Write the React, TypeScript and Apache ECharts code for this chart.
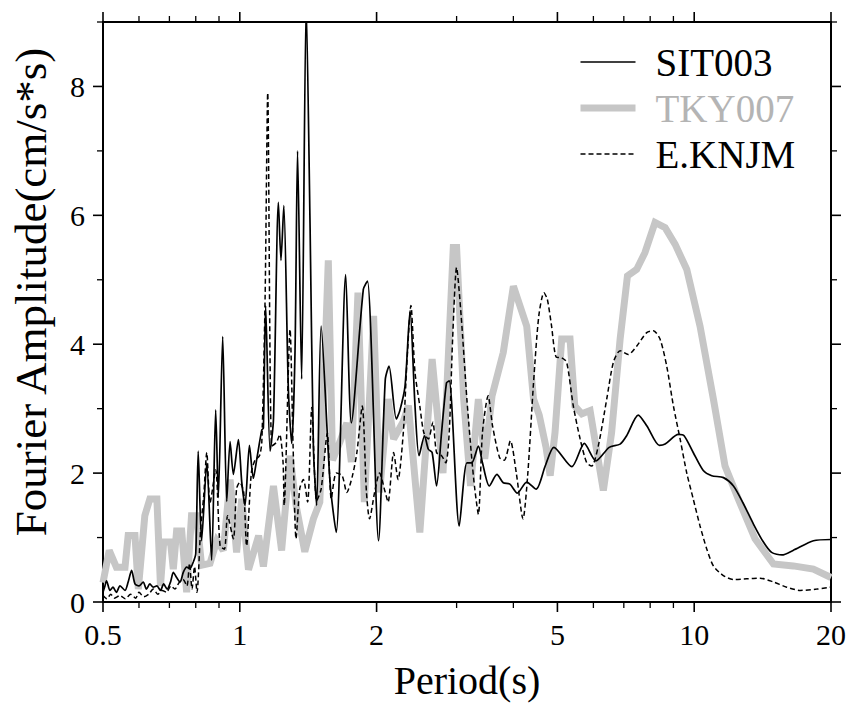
import React, { useEffect, useRef } from "react";
import * as echarts from "echarts";

const FONT = "'Liberation Serif', 'Times New Roman', Times, serif";

// Axis tick positions (log period axis, linear amplitude axis)
const xMajorTicks = [0.5, 1, 2, 5, 10, 20];
const xMinorTicks = [0.6, 0.7, 0.8, 0.9, 3, 4, 6, 7, 8, 9];
const yMajorTicks = [0, 2, 4, 6, 8];
const yMinorTicks = [1, 3, 5, 7, 9];

const seriesNames = ["SIT003", "TKY007", "E.KNJM"];

// SIT003 (thin black solid)
const sitPeriod = [
  0.5, 0.505, 0.509, 0.518, 0.526, 0.535, 0.545, 0.559, 0.568, 0.578, 0.588,
  0.6, 0.613, 0.623, 0.634, 0.645, 0.657, 0.669, 0.68, 0.692, 0.704, 0.714,
  0.726, 0.739, 0.751, 0.764, 0.777, 0.79, 0.8, 0.81, 0.824, 0.846, 0.867,
  0.885, 0.897, 0.917, 0.936, 0.952, 0.968, 0.993, 1.01, 1.027, 1.05, 1.071,
  1.09, 1.118, 1.127, 1.14, 1.166, 1.186, 1.216, 1.232, 1.25, 1.279, 1.301,
  1.323, 1.34, 1.368, 1.4, 1.428, 1.452, 1.476, 1.51, 1.58, 1.63, 1.71, 1.76,
  1.87, 1.91, 2.02, 2.09, 2.13, 2.21, 2.25, 2.31, 2.37, 2.43, 2.48, 2.55, 2.6,
  2.65, 2.71, 2.78, 2.85, 2.89, 3.04, 3.16, 3.24, 3.35, 3.42, 3.54, 3.68, 3.8,
  3.93, 4.08, 4.28, 4.49, 4.7, 4.91, 5.38, 5.73, 6.08, 6.5, 6.87, 7.1, 7.53,
  7.87, 8.38, 8.63, 9.23, 9.5, 9.95, 10.47, 10.93, 11.6, 12.2, 12.8, 13.5,
  14.2, 14.8, 15.6, 16.5, 18.3, 20,
];
const sitAmp = [
  0.15, 0.25, 0.33, 0.18, 0.23, 0.15, 0.25, 0.18, 0.31, 0.49, 0.28,
  0.25, 0.31, 0.2, 0.28, 0.23, 0.25, 0.18, 0.28, 0.2, 0.31, 0.46,
  0.38, 0.31, 0.46, 0.54, 0.52, 0.62, 0.75, 2.34, 0.95, 2.16, 0.65,
  2.98, 1.62, 4.12, 1.56, 2.49, 1.98, 2.52, 1.86, 1.5, 2.43, 1.92,
  2.22, 2.67, 2.7, 4.6, 2.34, 2.83, 6.2, 5.3, 6.15, 3.3, 2.46,
  3.9, 7.0, 3.46, 9.3, 5.8, 2.4, 1.5, 4.28, 1.85, 1.08, 5.08, 2.78,
  4.85, 4.98, 0.95, 3.45, 3.66, 2.84, 2.97, 3.35, 4.52, 3.04, 2.27, 2.58, 2.37,
  2.32, 1.8, 2.63, 3.4, 3.43, 1.18, 2.16, 2.16, 2.42, 2.16, 1.8, 1.98, 1.85,
  1.83, 1.69, 1.86, 1.75, 2.11, 2.4, 2.1, 2.46, 2.19, 2.4, 2.45, 2.58, 2.9,
  2.73, 2.43, 2.45, 2.6, 2.58, 2.32, 2.04, 1.96, 1.93, 1.8, 1.54, 1.21,
  0.93, 0.77, 0.73, 0.8, 0.95, 0.97,
];

// TKY007 (thick light grey)
const tkyPeriod = [
  0.5, 0.516, 0.535, 0.559, 0.568, 0.588, 0.598, 0.618, 0.634, 0.657, 0.669,
  0.68, 0.704, 0.714, 0.726, 0.745, 0.764, 0.783, 0.803, 0.824, 0.86, 0.89,
  0.92, 0.952, 0.984, 1.01, 1.045, 1.1, 1.127, 1.186, 1.236, 1.29, 1.33, 1.39,
  1.452, 1.5, 1.566, 1.6, 1.66, 1.72, 1.76, 1.82, 1.88, 1.97, 2.03, 2.12,
  2.18, 2.29, 2.35, 2.49, 2.65, 2.8, 2.95, 3.0, 3.11, 3.22, 3.35, 3.46, 3.59,
  3.8, 4.0, 4.28, 4.43, 4.56, 4.72, 4.82, 4.94, 5.11, 5.33, 5.46, 5.66, 5.9,
  6.31, 6.58, 6.87, 7.13, 7.47, 7.79, 8.2, 8.63, 9.08, 9.63, 10.3, 11.02,
  11.69, 12.5, 13.61, 14.94, 16.52, 18.29, 20,
];
const tkyAmp = [
  0.3, 0.8, 0.54, 0.54, 1.03, 1.03, 0.2, 1.34, 1.6, 1.6, 0.25,
  0.93, 0.93, 0.51, 1.1, 1.1, 0.15, 1.34, 1.34, 0.57, 0.6, 0.95,
  0.8, 1.9, 0.77, 1.6, 0.5, 1.03, 0.55, 1.8, 0.8, 2.27, 1.5, 0.78,
  1.29, 1.55, 5.3, 2.2, 2.48, 2.78, 2.17, 4.8, 1.55, 4.44, 1.7, 3.15,
  2.53, 2.8, 3.05, 1.08, 3.77, 2.0, 5.5, 5.5, 3.15, 1.8, 3.15, 2.22, 3.2,
  3.87, 4.9, 4.28, 3.15, 2.9, 2.4, 1.96, 2.63, 4.08, 4.08, 3.04, 2.92, 2.97,
  1.73, 2.63, 4.08, 5.06, 5.16, 5.42, 5.89, 5.81, 5.55, 5.16, 4.28, 3.15,
  2.11, 1.6, 0.98, 0.59, 0.56, 0.51, 0.38,
];

// E.KNJM (thin black dashed)
const knjPeriod = [
  0.5, 0.51, 0.52, 0.53, 0.545, 0.56, 0.575, 0.59, 0.6, 0.615, 0.63, 0.645,
  0.66, 0.675, 0.69, 0.705, 0.72, 0.735, 0.75, 0.765, 0.775, 0.785, 0.795,
  0.805, 0.82, 0.833, 0.846, 0.86, 0.885, 0.905, 0.925, 0.94, 0.968, 0.984,
  1.0, 1.02, 1.035, 1.06, 1.08, 1.105, 1.118, 1.137, 1.152, 1.176, 1.205,
  1.224, 1.245, 1.252, 1.29, 1.31, 1.33, 1.355, 1.38, 1.41, 1.44, 1.476, 1.51,
  1.558, 1.59, 1.63, 1.68, 1.72, 1.77, 1.81, 1.86, 1.9, 1.93, 1.98, 2.03, 2.09,
  2.12, 2.18, 2.23, 2.29, 2.33, 2.38, 2.43, 2.49, 2.54, 2.6, 2.66, 2.71, 2.78,
  2.84, 2.89, 2.94, 3.0, 3.07, 3.16, 3.24, 3.29, 3.35, 3.42, 3.52, 3.6, 3.73,
  3.82, 3.94, 4.06, 4.2, 4.3, 4.43, 4.55, 4.67, 4.75, 4.85, 4.97, 5.11, 5.24,
  5.42, 5.61, 5.8, 5.95, 6.15, 6.42, 6.64, 6.87, 7.16, 7.47, 7.86, 8.13, 8.41,
  8.7, 9.0, 9.31, 9.63, 9.95, 10.3, 10.66, 11.02, 11.59, 12.19, 13.05, 13.96,
  14.94, 15.98, 17.1, 18.6, 20,
];
const knjAmp = [
  0.1, 0.05, 0.12, 0.06, 0.1, 0.05, 0.12, 0.06, 0.15, 0.08, 0.12, 0.2,
  0.12, 0.18, 0.15, 0.25, 0.2, 0.3, 0.35, 0.25, 0.6, 0.2, 0.55,
  0.15, 1.13, 1.65, 2.32, 1.54, 2.05, 0.87, 0.82, 1.34, 0.98, 1.76,
  1.86, 1.7, 0.87, 2.0, 2.2, 2.27, 2.48, 4.75, 7.9, 2.42, 2.48,
  2.6, 2.17, 1.5, 4.23, 2.42, 0.98, 1.76, 1.9, 1.55, 3.02, 1.57, 1.75,
  2.62, 1.6, 2.0, 1.96, 1.7, 1.96, 2.32, 3.04, 1.7, 1.29, 1.7, 2.0, 1.7,
  1.55, 2.32, 1.9, 2.63, 3.66, 4.6, 3.56, 3.04, 2.63, 2.53, 2.79, 2.32, 2.27,
  2.16, 2.63, 4.08, 5.19, 4.44, 3.15, 2.22, 1.75, 1.36, 2.63, 3.2, 2.73, 2.24,
  2.2, 2.5, 2.0, 1.29, 1.96, 3.4, 4.44, 4.8, 4.7, 4.3, 3.8, 3.79, 3.72,
  3.04, 2.53, 2.16, 2.11, 2.42, 3.15, 3.72, 3.9, 3.84, 3.97, 4.18, 4.21, 4.08,
  3.66, 3.04, 2.53, 2.0, 1.6, 1.18, 0.82, 0.56, 0.41, 0.35, 0.36, 0.37,
  0.31, 0.23, 0.18, 0.2, 0.23,
];

const pairs = (p: number[], a: number[]) => p.map((t, i) => [t, a[i]]);

const X_MIN = 0.5;
const X_MAX = 20;
const Y_MIN = 0;
const Y_MAX = 9;

export default function App() {
  const ref = useRef<HTMLDivElement>(null);

  useEffect(() => {
    if (!ref.current) return;
    const chart = echarts.init(ref.current, null, { renderer: "svg" });

    const black = "#000";
    const frameLine = { show: true, onZero: false, lineStyle: { color: black, width: 2 } };
    const xCommon = {
      type: "log",
      logBase: 10,
      min: X_MIN,
      max: X_MAX,
      splitLine: { show: false },
      minorTick: { show: false },
      minorSplitLine: { show: false },
      axisTick: { show: false },
    };
    const yCommon = {
      type: "value",
      min: Y_MIN,
      max: Y_MAX,
      interval: 1,
      splitLine: { show: false },
      minorTick: { show: false },
      axisTick: { show: false },
    };

    // tick marks drawn through the axes' own scales (api.coord)
    const xTickData = [
      ...xMajorTicks.map((t) => [t, Y_MIN, 1]),
      ...xMinorTicks.map((t) => [t, Y_MIN, 0]),
    ];
    const yTickData = [
      ...yMajorTicks.map((v) => [X_MIN, v, 1]),
      ...yMinorTicks.map((v) => [X_MIN, v, 0]),
    ];
    const tickStyle = (major: boolean) => ({
      stroke: black,
      lineWidth: major ? 1.6 : 1.3,
    });

    const option: any = {
      animation: false,
      backgroundColor: "#fff",
      grid: { left: 103, right: 22, top: 22, bottom: 102, containLabel: false },
      legend: {
        orient: "vertical",
        left: 577,
        top: 42,
        padding: 0,
        itemWidth: 55,
        itemHeight: 14,
        itemGap: 6,
        selectedMode: false,
        lineStyle: { width: "inherit" },
        itemStyle: { opacity: 0, color: "rgba(0,0,0,0)", borderWidth: 0 },
        textStyle: {
          fontFamily: FONT,
          fontSize: 39,
          color: black,
          lineHeight: 40,
          padding: [0, 0, 0, 15],
        },
        data: [
          { name: seriesNames[0], textStyle: { fontFamily: FONT, color: black } },
          { name: seriesNames[1], textStyle: { fontFamily: FONT, color: "#b4b4b4" } },
          { name: seriesNames[2], textStyle: { fontFamily: FONT, color: black } },
        ],
      },
      xAxis: [
        {
          ...xCommon,
          position: "bottom",
          axisLine: frameLine,
          axisLabel: {
            customValues: xMajorTicks,
            fontFamily: FONT,
            fontSize: 30,
            color: black,
            margin: 17,
            formatter: (v: number) => String(+Number(v).toPrecision(3)),
          },
          name: "Period(s)",
          nameLocation: "middle",
          nameGap: 58,
          nameTextStyle: { fontFamily: FONT, fontSize: 40, color: black },
        },
        {
          ...xCommon,
          position: "top",
          axisLine: frameLine,
          axisLabel: { show: false },
        },
      ],
      yAxis: [
        {
          ...yCommon,
          position: "left",
          axisLine: frameLine,
          axisLabel: {
            customValues: yMajorTicks,
            fontFamily: FONT,
            fontSize: 30,
            color: black,
            margin: 18,
          },
          name: "Fourier Amplitude(cm/s*s)",
          nameLocation: "middle",
          nameGap: 50,
          nameTextStyle: {
            fontFamily: FONT,
            fontSize: 45,
            color: black,
            padding: [0, 0, 0, 40],
          },
        },
        {
          ...yCommon,
          position: "right",
          axisLine: frameLine,
          axisLabel: { show: false },
        },
      ],
      series: [
        {
          type: "line",
          name: seriesNames[1],
          xAxisIndex: 0,
          yAxisIndex: 0,
          data: pairs(tkyPeriod, tkyAmp),
          symbol: "none",
          showSymbol: false,
          clip: true,
          silent: true,
          z: 1,
          itemStyle: { color: "#c6c6c6" },
          lineStyle: { color: "#c6c6c6", width: 7, join: "miter", miterLimit: 2.5 },
        },
        {
          type: "line",
          name: seriesNames[2],
          xAxisIndex: 0,
          yAxisIndex: 0,
          data: pairs(knjPeriod, knjAmp),
          symbol: "none",
          showSymbol: false,
          smooth: 0.25,
          clip: true,
          silent: true,
          z: 2,
          itemStyle: { color: black },
          lineStyle: { color: black, width: 1.5, type: [5, 3] },
        },
        {
          type: "line",
          name: seriesNames[0],
          xAxisIndex: 0,
          yAxisIndex: 0,
          data: pairs(sitPeriod, sitAmp),
          symbol: "none",
          showSymbol: false,
          smooth: 0.25,
          clip: true,
          silent: true,
          z: 3,
          itemStyle: { color: black },
          lineStyle: { color: black, width: 1.7 },
        },
        {
          type: "custom",
          name: "xTicks",
          coordinateSystem: "cartesian2d",
          xAxisIndex: 0,
          yAxisIndex: 0,
          clip: false,
          silent: true,
          z: 10,
          encode: { x: 0, y: 1 },
          data: xTickData,
          renderItem: (_params: any, api: any) => {
            const t = api.value(0);
            const major = api.value(2) === 1;
            const len = major ? 10 : 6;
            const b = api.coord([t, Y_MIN]);
            const tp = api.coord([t, Y_MAX]);
            return {
              type: "group",
              children: [
                {
                  type: "line",
                  shape: { x1: b[0], y1: b[1], x2: b[0], y2: b[1] + len },
                  style: tickStyle(major),
                },
                {
                  type: "line",
                  shape: { x1: tp[0], y1: tp[1], x2: tp[0], y2: tp[1] - len },
                  style: tickStyle(major),
                },
              ],
            };
          },
        },
        {
          type: "custom",
          name: "yTicks",
          coordinateSystem: "cartesian2d",
          xAxisIndex: 0,
          yAxisIndex: 0,
          clip: false,
          silent: true,
          z: 10,
          encode: { x: 0, y: 1 },
          data: yTickData,
          renderItem: (_params: any, api: any) => {
            const v = api.value(1);
            const major = api.value(2) === 1;
            const len = major ? 10 : 6;
            const l = api.coord([X_MIN, v]);
            const r = api.coord([X_MAX, v]);
            return {
              type: "group",
              children: [
                {
                  type: "line",
                  shape: { x1: l[0], y1: l[1], x2: l[0] - len, y2: l[1] },
                  style: tickStyle(major),
                },
                {
                  type: "line",
                  shape: { x1: r[0], y1: r[1], x2: r[0] + len, y2: r[1] },
                  style: tickStyle(major),
                },
              ],
            };
          },
        },
      ],
    };

    chart.setOption(option);
    return () => chart.dispose();
  }, []);

  return (
    <div
      ref={ref}
      style={{ position: "fixed", left: 0, top: 0, width: 853, height: 705, background: "#fff" }}
    />
  );
}
